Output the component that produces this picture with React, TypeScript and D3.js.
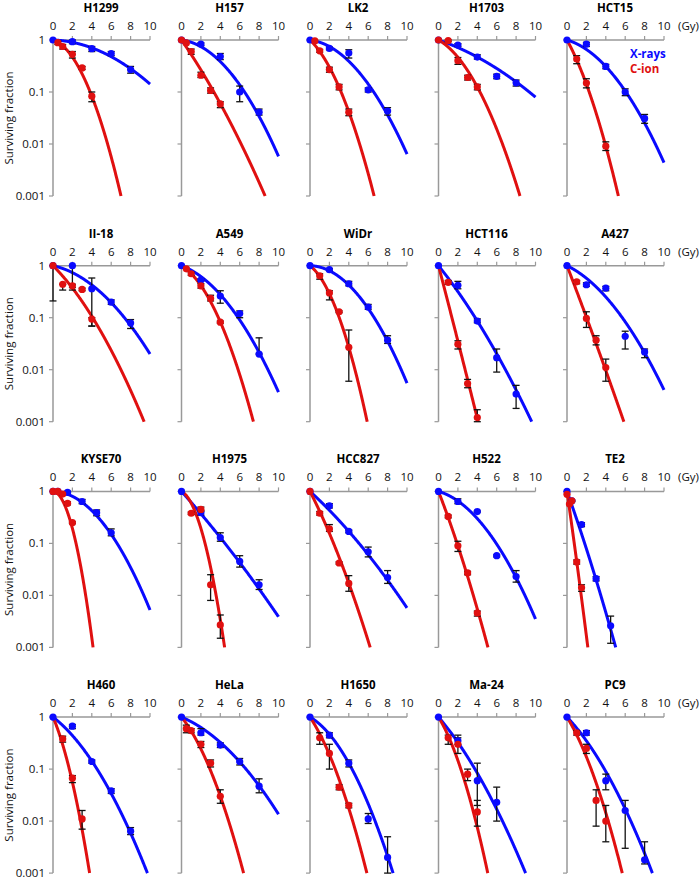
import React from "react";
import * as d3 from "d3";

const cellLines = ["H1299","H157","LK2","H1703","HCT15","II-18","A549","WiDr","HCT116","A427","KYSE70","H1975","HCC827","H522","TE2","H460","HeLa","H1650","Ma-24","PC9"];

// LQ fit parameters: S = exp(-(alpha*D + beta*D^2))
const xrayAlpha = [0.015,0.055,0.055,0.146,0.126, 0.094,0.16,0.01,0.536,0.21, 0.005,0.48,0.393,0.125,1.2, 0.33,0.18,0.25,0.5,0.45];
const xrayBeta  = [0.018,0.046,0.045,0.0107,0.0417, 0.0297,0.04,0.051,0.019,0.034, 0.052,0.0075,0.0123,0.044,0.035, 0.039,0.025,0.065,0.03,0.038];
const cionAlpha = [0.137,0.62,0.41,0.245,0.78, 0.43,0.26,0.335,1.65,1.12, 0.02,0.22,0.84,1.11,3.0, 1.0,0.535,0.65,0.7,0.7];
const cionBeta  = [0.121,0.021,0.096,0.0687,0.099, 0.0325,0.0906,0.142,0.01,0.01, 0.4,0.3,0.044,0.048,0.1, 0.22,0.085,0.09,0.13,0.09];

// [dose, surviving fraction, lower, upper]
type Pt = number[];
const xrayPoints: Pt[][] = [
  [[0,1],[2,0.93,0.85,1.0],[4,0.68,0.6,0.75],[6,0.55,0.5,0.6],[8,0.27,0.23,0.31]],
  [[0,1],[2,0.83,0.78,0.88],[4,0.48,0.42,0.55],[6,0.1,0.065,0.13],[8,0.041,0.036,0.047]],
  [[0,1],[2,0.69,0.65,0.73],[4,0.56,0.45,0.65],[6,0.11,0.1,0.12],[8,0.043,0.036,0.05]],
  [[0,1],[2,0.8,0.75,0.85],[4,0.47,0.43,0.52],[6,0.2,0.18,0.22],[8,0.15,0.13,0.17]],
  [[0,1],[2,0.83,0.75,0.9],[4,0.31,0.28,0.34],[6,0.1,0.085,0.115],[8,0.031,0.025,0.037]],
  [[0,1],[2,1.0,0.34,1.0],[4,0.36,0.069,0.58],[6,0.2,0.18,0.22],[8,0.079,0.062,0.092]],
  [[0,1],[2,0.53,0.5,0.56],[4,0.26,0.19,0.33],[6,0.12,0.1,0.135],[8,0.02,0.02,0.041]],
  [[0,1],[2,0.84,0.8,0.88],[4,0.45,0.41,0.5],[6,0.16,0.145,0.18],[8,0.037,0.032,0.045]],
  [[0,1],[2,0.42,0.36,0.5],[4,0.086,0.08,0.095],[6,0.017,0.009,0.025],[8,0.0034,0.0018,0.005]],
  [[0,1],[2,0.43,0.4,0.47],[4,0.37,0.33,0.4],[6,0.044,0.025,0.055],[8,0.022,0.017,0.025]],
  [[0,1],[0.5,1.0],[1.5,0.96,0.92,1.0],[3,0.64,0.58,0.7],[4.5,0.39,0.34,0.44],[6,0.16,0.14,0.19]],
  [[0,1],[2,0.39,0.35,0.43],[4,0.13,0.11,0.16],[6,0.045,0.035,0.058],[8,0.016,0.013,0.02]],
  [[0,1],[2,0.53,0.48,0.58],[4,0.17,0.16,0.18],[6,0.069,0.055,0.085],[8,0.022,0.017,0.03]],
  [[0,1],[2,0.64,0.58,0.72],[4,0.41,0.4,0.42],[6,0.058,0.055,0.06],[8,0.023,0.018,0.03]],
  [[0,1],[0.5,0.66,0.64,0.68],[1.5,0.23,0.21,0.25],[3,0.021,0.019,0.023],[4.5,0.0026,0.0012,0.004]],
  [[0,1],[2,0.67,0.6,0.72],[4,0.14,0.13,0.15],[6,0.038,0.034,0.042],[8,0.0064,0.0055,0.0075]],
  [[0,1],[2,0.5,0.45,0.6],[4,0.29,0.26,0.32],[6,0.14,0.12,0.16],[8,0.047,0.035,0.065]],
  [[0,1],[2,0.45,0.4,0.5],[4,0.13,0.11,0.15],[6,0.011,0.009,0.014],[8,0.002,0.001,0.005]],
  [[0,1],[2,0.35,0.3,0.45],[4,0.06,0.02,0.13],[6,0.023,0.01,0.045]],
  [[0,1],[2,0.5,0.45,0.55],[4,0.06,0.04,0.08],[6,0.016,0.003,0.025],[8,0.0018,0.0015,0.004]],
];
const cionPoints: Pt[][] = [
  [[0.5,0.89,0.82,0.95],[1,0.75,0.67,0.82],[2,0.53,0.45,0.6],[3,0.29,0.27,0.31],[4,0.083,0.065,0.1]],
  [[0,1],[0.5,0.88],[1,0.6,0.53,0.67],[2,0.21,0.19,0.24],[3,0.107,0.095,0.12],[4,0.059,0.05,0.065]],
  [[0.5,0.96],[1,0.62,0.58,0.66],[2,0.27,0.24,0.3],[3,0.125,0.11,0.14],[4,0.041,0.035,0.047]],
  [[0,1],[1,0.97,0.93,1.0],[2,0.4,0.34,0.46],[3,0.19,0.17,0.21],[4,0.125,0.11,0.14]],
  [[1,0.43,0.35,0.5],[2,0.149,0.12,0.18],[4,0.0091,0.0075,0.011]],
  [[0,1,0.21,1],[1,0.44,0.34,0.44],[2,0.41,0.38,0.44],[3,0.35,0.33,0.37],[4,0.094,0.069,0.1]],
  [[0.5,0.87],[1,0.7,0.65,0.75],[2,0.41,0.37,0.45],[3,0.235,0.21,0.27],[4,0.082,0.078,0.086]],
  [[1,0.64,0.55,0.7],[2,0.3,0.22,0.33],[3,0.13,0.125,0.135],[4,0.027,0.006,0.058]],
  [[1,0.48,0.44,0.52],[2,0.031,0.025,0.036],[3,0.0054,0.0045,0.0065],[4,0.0012,0.0009,0.0017]],
  [[1,0.49,0.45,0.52],[2,0.097,0.065,0.13],[3,0.037,0.03,0.045],[4,0.011,0.006,0.016]],
  [[0,1],[0.5,1],[1,0.89,0.85,0.93],[1.5,0.59,0.55,0.63],[2,0.25,0.24,0.26]],
  [[1,0.38,0.36,0.4],[2,0.45,0.41,0.5],[3,0.016,0.008,0.025],[4,0.0027,0.0015,0.0042]],
  [[0,1],[1,0.38,0.35,0.41],[2,0.19,0.17,0.23],[3,0.042,0.04,0.044],[4,0.017,0.012,0.024]],
  [[1,0.33,0.31,0.35],[2,0.09,0.07,0.11],[3,0.027,0.025,0.029],[4,0.0046,0.004,0.005]],
  [[0,0.88],[0.25,0.57],[0.5,0.66],[1,0.044,0.04,0.048],[1.5,0.014,0.012,0.016]],
  [[1,0.38,0.33,0.43],[2,0.067,0.055,0.075],[3,0.011,0.007,0.016]],
  [[0.5,0.6,0.5,0.7],[1,0.55,0.5,0.6],[2,0.3,0.26,0.34],[3,0.13,0.11,0.15],[4,0.03,0.022,0.04]],
  [[1,0.4,0.3,0.5],[2,0.2,0.1,0.3],[3,0.045,0.04,0.05],[4,0.02,0.018,0.022]],
  [[1,0.4,0.3,0.45],[2,0.3,0.2,0.4],[3,0.08,0.06,0.1],[4,0.015,0.008,0.025]],
  [[1,0.5,0.45,0.55],[2,0.25,0.2,0.3],[3,0.025,0.008,0.04],[4,0.01,0.004,0.02]],
];

const doseTicks = [0, 2, 4, 6, 8, 10];
const sfTicks = [1, 0.1, 0.01, 0.001];
const sfLabels = ["1", "0.1", "0.01", "0.001"];

const BLUE = "#0a0aff";
const RED = "#e01010";
const AXIS = "#999999";
const FONT = "'Open Sans', 'Noto Sans', sans-serif";

function lqCurve(alpha: number, beta: number): [number, number][] {
  const pts: [number, number][] = [];
  const step = 0.02;
  let prevD = 0, prevS = 1;
  for (let d = 0; d <= 10.0001; d += step) {
    const s = Math.exp(-(alpha * d + beta * d * d));
    if (s < 0.001) {
      const lp = Math.log10(prevS), lc = Math.log10(s);
      const t = (-3 - lp) / (lc - lp);
      pts.push([prevD + t * (d - prevD), 0.001]);
      break;
    }
    pts.push([d, s]);
    prevD = d; prevS = s;
  }
  return pts;
}

function Panel({ i }: { i: number }) {
  const col = i % 5, row = Math.floor(i / 5);
  const x0 = 53 + col * 128.5;
  const y0 = 40 + row * 225.7;
  const x = d3.scaleLinear().domain([0, 10]).range([x0, x0 + 97]);
  const y = d3.scaleLog().domain([0.001, 1]).range([y0 + 156, y0]);
  const line = d3.line<[number, number]>().x(d => x(d[0])).y(d => y(d[1]));
  const blueCurve = lqCurve(xrayAlpha[i], xrayBeta[i]);
  const redCurve = lqCurve(cionAlpha[i], cionBeta[i]);

  const errBars = (pts: Pt[], key: string) =>
    pts.filter(p => p.length >= 4).map((p, k) => {
      const cx = x(p[0]);
      const yl = y(Math.max(p[2], 0.001)), yh = y(Math.min(p[3], 1));
      return (
        <g key={key + k} stroke="#111" strokeWidth={1.3}>
          <line x1={cx} x2={cx} y1={yl} y2={yh} />
          <line x1={cx - 3.5} x2={cx + 3.5} y1={yl} y2={yl} />
          <line x1={cx - 3.5} x2={cx + 3.5} y1={yh} y2={yh} />
        </g>
      );
    });

  return (
    <g>
      <text x={x0 + 48} y={y0 - 28} textAnchor="middle" fontFamily={FONT} fontWeight="bold" fontSize={11.5}>{cellLines[i]}</text>
      <line x1={x0} x2={x(10)} y1={y0} y2={y0} stroke={AXIS} strokeWidth={1.5} />
      {doseTicks.map(t => (
        <g key={"xt" + t}>
          {t > 0 && <line x1={x(t)} x2={x(t)} y1={y0} y2={y0 - 4} stroke={AXIS} strokeWidth={1.2} />}
          <text x={x(t)} y={y0 - 10} textAnchor="middle" fontFamily={FONT} fontSize={11.5} fill="#111">{t}</text>
        </g>
      ))}
      <line x1={x0} x2={x0} y1={y0} y2={y(0.001)} stroke={AXIS} strokeWidth={1.5} />
      {sfTicks.map((t, k) => (
        <g key={"yt" + t}>
          <line x1={x0 - 4} x2={x0} y1={y(t)} y2={y(t)} stroke={AXIS} strokeWidth={1.2} />
          {col === 0 && (
            <text x={x0 - 8} y={y(t) + 4} textAnchor="end" fontFamily={FONT} fontSize={11.5} fill="#111">{sfLabels[k]}</text>
          )}
        </g>
      ))}
      {col === 0 && (
        <text transform={`translate(${x0 - 40},${y0 + 78}) rotate(-90)`} textAnchor="middle" fontFamily={FONT} fontSize={11.5} fill="#111">Surviving fraction</text>
      )}
      {col === 4 && (
        <text x={678} y={y0 - 10} fontFamily={FONT} fontSize={11.5} fill="#111">(Gy)</text>
      )}
      <path d={line(blueCurve) || ""} fill="none" stroke={BLUE} strokeWidth={3} />
      <path d={line(redCurve) || ""} fill="none" stroke={RED} strokeWidth={3} />
      {errBars(xrayPoints[i], "bx")}
      {errBars(cionPoints[i], "rx")}
      {xrayPoints[i].map((p, k) => (
        <circle key={"bp" + k} cx={x(p[0])} cy={y(p[1])} r={3.6} fill={BLUE} />
      ))}
      {cionPoints[i].map((p, k) => (
        <circle key={"rp" + k} cx={x(p[0])} cy={y(p[1])} r={3.6} fill={RED} />
      ))}
    </g>
  );
}

export default function App() {
  return (
    <svg width={700} height={883} style={{ position: "absolute", left: 0, top: 0, background: "#fff" }}>
      <rect width={700} height={883} fill="#fff" />
      {cellLines.map((_, i) => <Panel key={i} i={i} />)}
      <text x={630} y={58} fontFamily={FONT} fontWeight="bold" fontSize={11.5} fill={BLUE}>X-rays</text>
      <text x={630} y={73} fontFamily={FONT} fontWeight="bold" fontSize={11.5} fill={RED}>C-ion</text>
    </svg>
  );
}
